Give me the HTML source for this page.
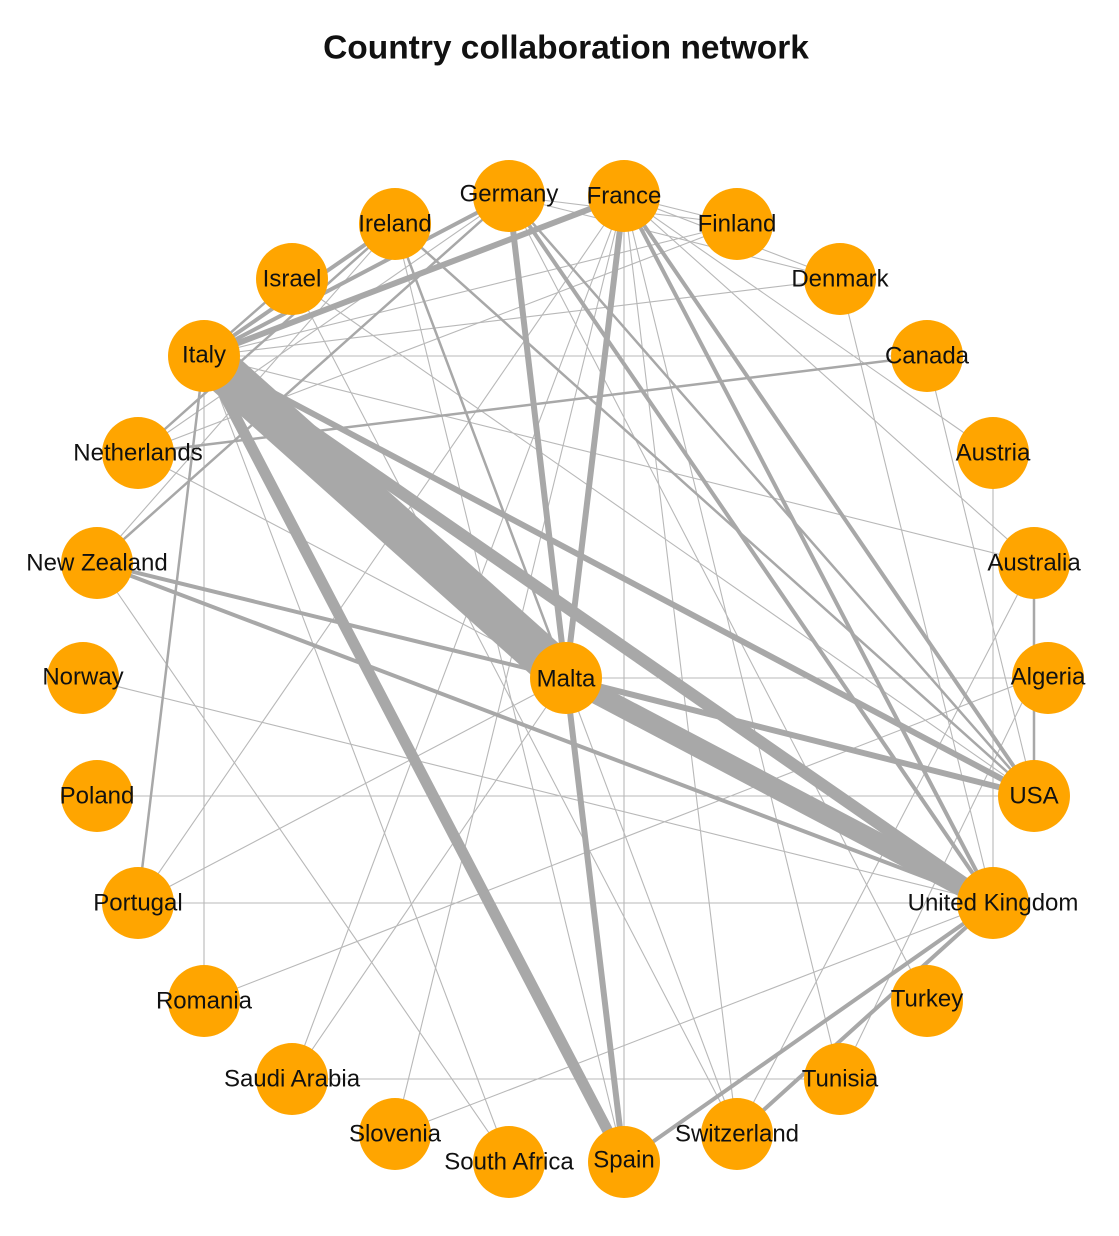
<!DOCTYPE html>
<html><head><meta charset="utf-8"><style>
body{margin:0;background:#fff}
svg{display:block}
text{font-family:"Liberation Sans",sans-serif;font-size:24px;fill:#111;text-anchor:middle;dominant-baseline:central}
</style></head><body>
<svg width="1119" height="1236" viewBox="0 0 1119 1236">
<text x="566" y="48" style="font-size:33.5px;font-weight:bold">Country collaboration network</text>
<g stroke="#a8a8a8" stroke-linecap="round" fill="none">
<g stroke-width="1.1" stroke="#b8b8b8">
<line x1="624" y1="196" x2="1034" y2="563"/><line x1="624" y1="196" x2="840" y2="1079"/>
<line x1="624" y1="196" x2="624" y2="1162"/><line x1="624" y1="196" x2="395" y2="1134"/>
<line x1="624" y1="196" x2="292" y2="1079"/><line x1="624" y1="196" x2="138" y2="903"/>
<line x1="624" y1="196" x2="737" y2="1134"/><line x1="624" y1="196" x2="993" y2="453"/>
<line x1="624" y1="196" x2="840" y2="279"/><line x1="624" y1="196" x2="737" y2="224"/>
<line x1="509" y1="196" x2="840" y2="279"/><line x1="509" y1="196" x2="737" y2="224"/>
<line x1="509" y1="196" x2="927" y2="1001"/><line x1="509" y1="196" x2="138" y2="453"/>
<line x1="395" y1="224" x2="624" y2="1162"/><line x1="395" y1="224" x2="97" y2="563"/>
<line x1="292" y1="279" x2="737" y2="1134"/><line x1="292" y1="279" x2="1034" y2="796"/>
<line x1="204" y1="356" x2="1034" y2="563"/><line x1="204" y1="356" x2="927" y2="356"/>
<line x1="204" y1="356" x2="204" y2="1001"/><line x1="204" y1="356" x2="509" y2="1162"/>
<line x1="204" y1="356" x2="840" y2="279"/><line x1="204" y1="356" x2="737" y2="224"/>
<line x1="138" y1="453" x2="993" y2="903"/><line x1="138" y1="453" x2="737" y2="224"/>
<line x1="97" y1="563" x2="509" y2="1162"/><line x1="83" y1="678" x2="993" y2="903"/>
<line x1="97" y1="796" x2="1034" y2="796"/><line x1="138" y1="903" x2="566" y2="678"/>
<line x1="204" y1="1001" x2="1034" y2="678"/><line x1="292" y1="1079" x2="840" y2="1079"/>
<line x1="292" y1="1079" x2="566" y2="678"/><line x1="395" y1="1134" x2="993" y2="903"/>
<line x1="840" y1="279" x2="993" y2="903"/><line x1="927" y1="356" x2="1034" y2="796"/>
<line x1="1034" y1="678" x2="840" y2="1079"/><line x1="1034" y1="563" x2="737" y2="1134"/>
<line x1="566" y1="678" x2="737" y2="1134"/><line x1="566" y1="678" x2="1034" y2="678"/>
<line x1="993" y1="453" x2="993" y2="903"/><line x1="138" y1="903" x2="993" y2="903"/>
</g>
<g stroke-width="2.5">
<line x1="927" y1="356" x2="138" y2="453"/><line x1="395" y1="224" x2="138" y2="453"/>
<line x1="509" y1="196" x2="97" y2="563"/><line x1="204" y1="356" x2="138" y2="903"/>
<line x1="292" y1="279" x2="204" y2="356"/><line x1="1034" y1="563" x2="1034" y2="796"/>
<line x1="395" y1="224" x2="566" y2="678"/><line x1="509" y1="196" x2="1034" y2="796"/>
<line x1="395" y1="224" x2="1034" y2="796"/>
</g>
<g stroke-width="4">
<line x1="509" y1="196" x2="204" y2="356"/><line x1="395" y1="224" x2="204" y2="356"/>
<line x1="624" y1="196" x2="993" y2="903"/><line x1="624" y1="196" x2="1034" y2="796"/>
<line x1="509" y1="196" x2="993" y2="903"/><line x1="993" y1="903" x2="624" y2="1162"/>
<line x1="993" y1="903" x2="737" y2="1134"/><line x1="97" y1="563" x2="566" y2="678"/>
<line x1="97" y1="563" x2="993" y2="903"/>
</g>
<g stroke-width="6">
<line x1="624" y1="196" x2="204" y2="356"/><line x1="509" y1="196" x2="566" y2="678"/>
<line x1="624" y1="196" x2="566" y2="678"/><line x1="566" y1="678" x2="624" y2="1162"/>
<line x1="566" y1="678" x2="1034" y2="796"/><line x1="204" y1="356" x2="1034" y2="796"/>
</g>
<line x1="204" y1="356" x2="624" y2="1162" stroke-width="11"/>
<line x1="204" y1="356" x2="993" y2="903" stroke-width="12"/>
<line x1="566" y1="678" x2="993" y2="903" stroke-width="20"/>
<line x1="210" y1="360" x2="566" y2="678" stroke-width="42" stroke-linecap="butt"/>
</g>
<g fill="#ffa500">
<circle cx="509" cy="196" r="36"/><circle cx="624" cy="196" r="36"/><circle cx="395" cy="224" r="36"/>
<circle cx="737" cy="224" r="36"/><circle cx="292" cy="279" r="36"/><circle cx="840" cy="279" r="36"/>
<circle cx="204" cy="356" r="36"/><circle cx="927" cy="356" r="36"/><circle cx="138" cy="453" r="36"/>
<circle cx="993" cy="453" r="36"/><circle cx="97" cy="563" r="36"/><circle cx="1034" cy="563" r="36"/>
<circle cx="83" cy="678" r="36"/><circle cx="1048" cy="678" r="36"/><circle cx="97" cy="796" r="36"/>
<circle cx="1034" cy="796" r="36"/><circle cx="138" cy="903" r="36"/><circle cx="993" cy="903" r="36"/>
<circle cx="204" cy="1001" r="36"/><circle cx="927" cy="1001" r="36"/><circle cx="292" cy="1079" r="36"/>
<circle cx="840" cy="1079" r="36"/><circle cx="395" cy="1134" r="36"/><circle cx="737" cy="1134" r="36"/>
<circle cx="509" cy="1162" r="36"/><circle cx="624" cy="1162" r="36"/><circle cx="566" cy="678" r="36"/>
</g>
<text x="509" y="194">Germany</text><text x="624" y="196">France</text><text x="395" y="224">Ireland</text>
<text x="737" y="224">Finland</text><text x="292" y="279">Israel</text><text x="840" y="279">Denmark</text>
<text x="204" y="355">Italy</text><text x="927" y="356">Canada</text><text x="138" y="453">Netherlands</text>
<text x="993" y="453">Austria</text><text x="97" y="563">New Zealand</text><text x="1034" y="563">Australia</text>
<text x="83" y="677">Norway</text><text x="1048" y="677">Algeria</text><text x="97" y="796">Poland</text>
<text x="1034" y="796">USA</text><text x="138" y="903">Portugal</text><text x="993" y="903">United Kingdom</text>
<text x="204" y="1001">Romania</text><text x="927" y="999">Turkey</text><text x="292" y="1079">Saudi Arabia</text>
<text x="840" y="1079">Tunisia</text><text x="395" y="1134">Slovenia</text><text x="737" y="1134">Switzerland</text>
<text x="509" y="1162">South Africa</text><text x="624" y="1160">Spain</text><text x="566" y="679">Malta</text>
</svg>
</body></html>
